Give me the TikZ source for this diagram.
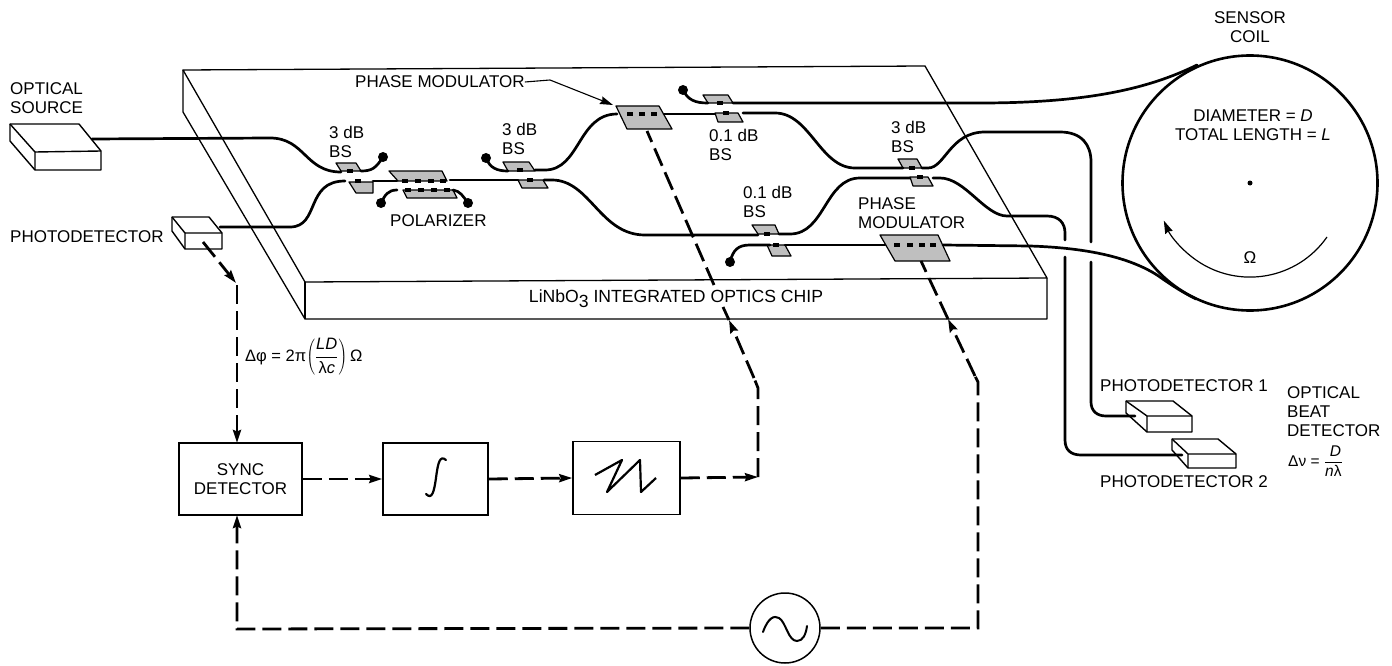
\documentclass[tikz,border=0pt]{standalone}
\usepackage{fontspec}
\setmainfont{Liberation Sans}
\usetikzlibrary{arrows.meta}
\tikzset{
  x=1pt,y=-1pt,
  lab/.style={inner sep=0pt,anchor=west,align=left,font=\fontsize{17}{19}\selectfont},
  clab/.style={inner sep=0pt,align=center,font=\fontsize{17}{19}\selectfont},
  chipline/.style={line width=1.3pt,line join=round},
  fiber/.style={line width=2.7pt,line cap=round},
  ctrl/.style={line width=2.8pt,dash pattern=on 19pt off 7pt},
  arr/.style={-{Stealth[length=13pt,width=8pt,inset=1.5pt]}},
  patchy/.style={fill=gray!50,draw=black,line width=1.2pt,line join=round},
  seg/.style={line width=3.6pt},
  tip/.style={circle,fill=black,inner sep=0pt,minimum size=10pt},
  block/.style={draw,line width=1.5pt,fill=white,inner sep=0pt,align=center,font=\fontsize{17}{19}\selectfont},
  boxline/.style={line width=1.4pt,line join=round},
}
\newcommand{\dashrow}[2]{\foreach \xx in {#2} {\draw[seg] (\xx-2.8,#1) -- (\xx+2.8,#1);}}
\begin{document}
\begin{tikzpicture}
\useasboundingbox (0,0) rectangle (1392,666);

% ---- chip
\draw[chipline] (183,70) -- (925,66) -- (1047,278) -- (305,282) -- cycle;
\draw[chipline] (183,70) -- (183,112) -- (305,319) -- (1047,319) -- (1047,278);
\draw[chipline] (305,282) -- (305,319);
\node[clab,font=\fontsize{17.6}{19}\selectfont] (chiplabel) at (676,299) {LiNbO\raisebox{-5pt}{3} INTEGRATED OPTICS CHIP};

% ---- optical source, photodetectors
\draw[boxline] (10,124) -- (79,124) -- (101,151) -- (101,170) -- (35,170) -- (10,141) -- cycle;
\draw[boxline] (10,124) -- (35,152) -- (101,151) (35,152) -- (35,170);
\draw[boxline] (172,217) -- (209,217) -- (222,233) -- (222,249) -- (185,249) -- (172,231) -- cycle;
\draw[boxline] (172,217) -- (185,233) -- (222,233) (185,233) -- (185,249);
\draw[boxline] (1126,401) -- (1173,401) -- (1192,416) -- (1192,432) -- (1147,432) -- (1126,413) -- cycle;
\draw[boxline] (1126,401) -- (1147,416) -- (1192,416) (1147,416) -- (1147,432);
\draw[boxline] (1172,439) -- (1218,439) -- (1236,454) -- (1236,468) -- (1188,468) -- (1172,450) -- cycle;
\draw[boxline] (1172,439) -- (1188,454) -- (1236,454) (1188,454) -- (1188,468);

% ---- coupler and modulator patches
\draw[patchy] (336,163) -- (356,163) -- (361,171) -- (341,171) -- cycle;
\draw[patchy] (349,182) -- (373,182) -- (373,193) -- (356,193) -- cycle;
\draw[patchy] (389,171) -- (442,171) -- (447,181) -- (398,181) -- cycle;
\draw[patchy] (403,190) -- (453,190) -- (457,198) -- (407,198) -- cycle;
\draw[patchy] (503,162) -- (529,162) -- (535,171) -- (508,171) -- cycle;
\draw[patchy] (518,180) -- (543,180) -- (548,188) -- (522,188) -- cycle;
\draw[patchy] (703,95) -- (728,95) -- (733,103) -- (708,103) -- cycle;
\draw[patchy] (715,113) -- (738,113) -- (743,122) -- (718,122) -- cycle;
\draw[patchy] (898,159) -- (917,159) -- (922,168) -- (903,168) -- cycle;
\draw[patchy] (910,177) -- (928,177) -- (933,186) -- (913,186) -- cycle;
\draw[patchy] (752,225) -- (775,225) -- (779,234) -- (758,234) -- cycle;
\draw[patchy] (767,245) -- (785,245) -- (791,256) -- (772,256) -- cycle;
\draw[patchy] (616,106) -- (659,106) -- (672,129) -- (627,129) -- cycle;
\draw[patchy] (880,235) -- (938,235) -- (950,261) -- (895,261) -- cycle;
\dashrow{171}{350}
\dashrow{181}{358,405,418,431,443}
\dashrow{190}{408,421,434,447}
\dashrow{170}{520}
\dashrow{180}{530}
\dashrow{103}{720}
\dashrow{113}{726}
\dashrow{168}{912}
\dashrow{177}{920}
\dashrow{234}{767}
\dashrow{245}{776}
\dashrow{114}{630,642,654}
\dashrow{245}{897,910,922,933}

% ---- sensor coil
\node[circle,draw,line width=2.6pt,minimum size=255pt,inner sep=0pt] (coil) at (1250,183) {};
\node[circle,fill=black,inner sep=0pt,minimum size=5pt] (coilcentre) at (1250,183) {};
\draw[line width=1.2pt,arr] (1327,237) arc[start angle=35,end angle=156.5,radius=94];
\node[clab] (omega) at (1250,258) {Ω};
\node[clab] (coiltitle) at (1250,27) {SENSOR\\COIL};
\node[clab] (coilspec) at (1253,125) {DIAMETER = \textit{D}\\TOTAL LENGTH = \textit{L}};

% ---- fibres
\draw[fiber] (92,139) -- (270,138) .. controls (305,138) and (305,172) .. (341,172);
\draw[fiber] (361,171) .. controls (372,171) and (376,168) .. (383,157);
\node[tip] (d1) at (383,157) {};
\draw[fiber] (220,227) -- (290,227) .. controls (320,227) and (305,181) .. (345,181);
\draw[fiber] (373,181) -- (397,181);
\draw[fiber] (450,180) -- (518,180);
\draw[fiber] (397,190) .. controls (388,190) and (385,195) .. (381,203);
\node[tip] (d2) at (381,203) {};
\draw[fiber] (453,190) .. controls (460,191) and (463,196) .. (468,203);
\node[tip] (d3) at (468,203) {};
\draw[fiber] (486,158) .. controls (490,168) and (497,171) .. (508,171);
\node[tip] (d4) at (486,158) {};
\draw[fiber] (535,170) -- (545,170) .. controls (580,170) and (578,114) .. (617,114);
\draw[fiber] (544,180) -- (552,180) .. controls (590,180) and (600,235) .. (645,235) -- (758,235);
\draw[fiber] (664,114) -- (715,114);
\draw[fiber] (743,113) -- (775,113) .. controls (810,113) and (820,168) .. (855,168) -- (903,168);
\draw[fiber] (779,234) -- (790,234) .. controls (825,234) and (825,178) .. (860,178) -- (910,178);
\draw[fiber] (922,168) -- (928,168) .. controls (945,168) and (950,132) .. (985,132) -- (1060,132) .. controls (1082,132) and (1091,145) .. (1091,162) -- (1091,242);
\draw[fiber] (1091,262) -- (1091,402) .. controls (1091,411) and (1097,416) .. (1106,416) -- (1135,416);
\draw[fiber] (933,178) -- (940,178) .. controls (965,178) and (985,216) .. (1007,216) -- (1047,216) .. controls (1059,216) and (1065,223) .. (1065,233) -- (1065,240);
\draw[fiber] (1065,257) -- (1065,440) .. controls (1065,450) and (1071,455) .. (1081,455) -- (1182,455);
\draw[fiber] (683,90) .. controls (688,100) and (695,103) .. (708,103);
\node[tip] (d5) at (683,90) {};
\draw[fiber] (733,103) -- (980,103) .. controls (1090,103) and (1150,88) .. (1197,65);
\draw[fiber] (730,262) .. controls (733,250) and (738,245) .. (750,245) -- (770,245);
\node[tip] (d6) at (730,262) {};
\draw[fiber] (785,245) -- (885,245);
\draw[fiber] (943,245) -- (1030,246) .. controls (1090,248) and (1130,258) .. (1157,275) .. controls (1170,284) and (1180,291) .. (1196,299);

% ---- blocks
\node[block,minimum width=123pt,minimum height=72pt] (sync) at (240.5,479) {SYNC\\DETECTOR};
\node[block,minimum width=105pt,minimum height=72pt] (integ) at (435.5,479) {};
\node[block,minimum width=107pt,minimum height=73pt] (ramp) at (626.5,478) {};
\node[block,circle,minimum size=70pt] (osc) at (785,628) {};
\draw[line width=2.2pt,line cap=round] (426,494) .. controls (432,500) and (434,492) .. (436,478) .. controls (438,462) and (440,455) .. (446,460);
\draw[line width=2.2pt,line join=round] (595,475) -- (622,460) -- (607,492) -- (640,460) -- (641,492) -- (656,478);
\draw[line width=2pt,line cap=round] (763,632) .. controls (768,618) and (774,615) .. (779,618) .. controls (786,622) and (788,641) .. (797,641) .. controls (803,641) and (806,634) .. (807,626);

% ---- control lines
\coordinate (pdout) at (203,242);
\coordinate (pdbend) at (236,283);
\coordinate (pmone) at (647,131);
\coordinate (pmonea) at (714,285);
\coordinate (pmoneb) at (723,307);
\coordinate (pmonetip) at (729,320);
\coordinate (rampbend) at (758,388);
\coordinate (rampcorner) at (758,477);
\coordinate (pmtwo) at (921,261);
\coordinate (pmtwotip) at (948,319);
\coordinate (oscbend) at (978,382);
\coordinate (osccorner) at (978,628);
\coordinate (synccorner) at (237,629);
\draw[ctrl,arr] (pdout) -- (pdbend);
\draw[ctrl,arr] (237,285) -- (237,443);
\draw[ctrl,arr] (sync.east) -- (integ.west);
\draw[ctrl,arr] (integ.east) -- (ramp.west);
\draw[ctrl,arr] (ramp.east) -- (rampcorner);
\draw[ctrl] (rampcorner) -- (rampbend) -- (754,378);
\draw[ctrl,arr] (754,378) -- (pmonetip);
\draw[line width=2.8pt] (pmonetip) -- (pmoneb);
\draw[ctrl] (pmonea) -- (pmone);
\draw[ctrl,arr] (osc.west) -- (synccorner) -- (237,515);
\draw[ctrl] (osc.east) -- (osccorner) -- (oscbend) -- (975,376);
\draw[ctrl,arr] (975,376) -- (pmtwotip);
\draw[ctrl] (pmtwotip) -- (pmtwo);

% ---- labels
\node[lab] (l1) at (10,98) {OPTICAL\\SOURCE};
\node[lab] (l2) at (10,237) {PHOTODETECTOR};
\node[lab] (l3) at (329,142) {3 dB\\BS};
\node[lab] (l4) at (390,221) {POLARIZER};
\node[lab] (l5) at (355,82) {PHASE MODULATOR};
\node[lab] (l6) at (502,139) {3 dB\\BS};
\node[lab] (l7) at (709,145) {0.1 dB\\BS};
\node[lab] (l8) at (891,137) {3 dB\\BS};
\node[lab] (l9) at (743,202) {0.1 dB\\BS};
\node[lab] (l10) at (858,213) {PHASE\\MODULATOR};
\node[lab] (l11) at (1100,386) {PHOTODETECTOR 1};
\node[lab] (l12) at (1100,482) {PHOTODETECTOR 2};
\node[lab] (l13) at (1287,412) {OPTICAL\\BEAT\\DETECTOR};
\node[lab,font=\fontsize{15.5}{18}\selectfont] (l14) at (1288,461) {Δν = $\displaystyle\frac{\hbox{\textit{\ D}}}{\hbox{\textit{n}λ}}$};
\node[lab,font=\fontsize{16.5}{18}\selectfont] (l15) at (245,357) {Δφ = 2π$\displaystyle\left(\frac{\hbox{\textit{LD}}}{\hbox{λ\textit{c}}}\right)$\,Ω};
\coordinate (leaderknee) at (550,80);
\coordinate (leaderend) at (613,105);
\draw[line width=1.1pt,arr] (l5.east) -- (leaderknee) -- (leaderend);
\end{tikzpicture}
\end{document}
